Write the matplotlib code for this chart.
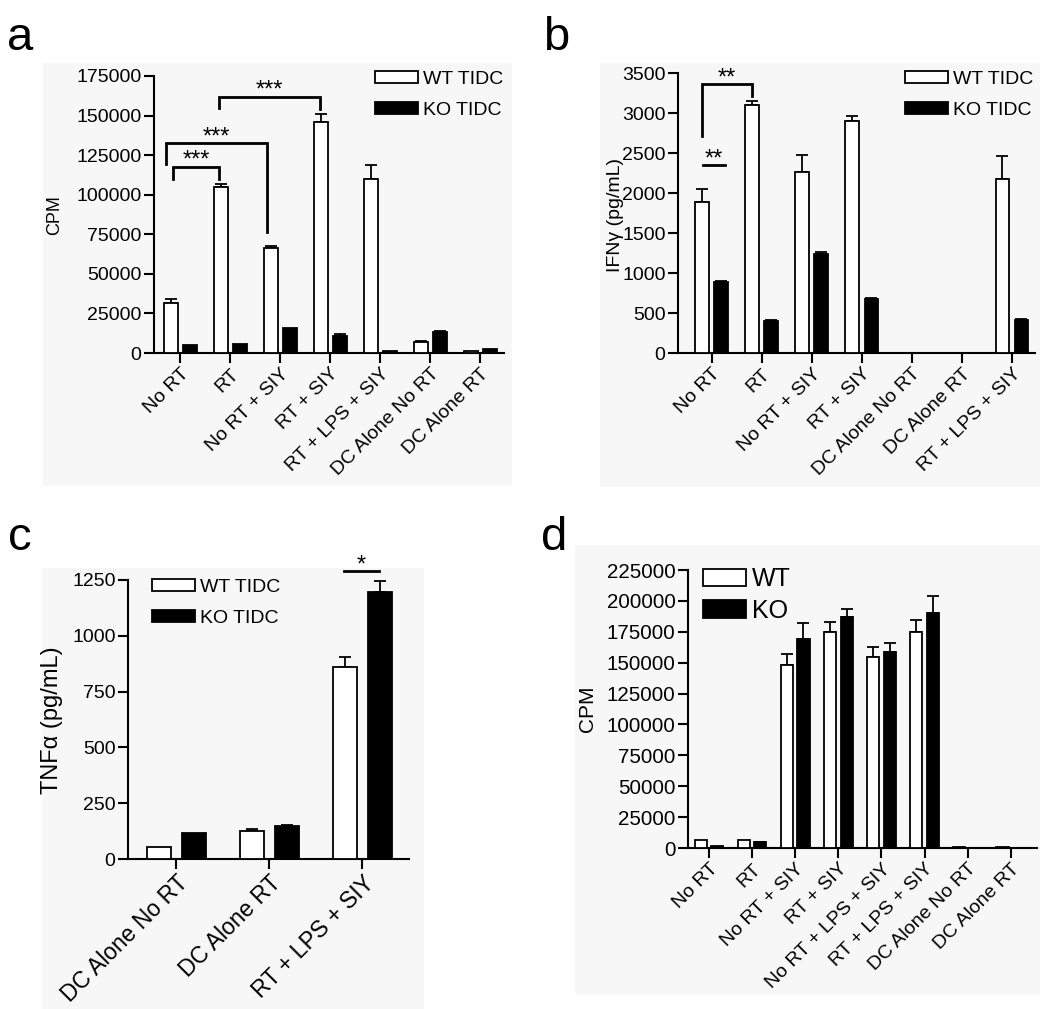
import numpy as np
import matplotlib
matplotlib.use('Agg')
import matplotlib.pyplot as plt
from matplotlib.patches import Rectangle

plt.rcParams['font.family'] = ['Liberation Sans', 'DejaVu Sans']

W, H = 1050, 1009

# ---- data ----
a_groups = ['No RT', 'RT', 'No RT + SIY', 'RT + SIY', 'RT + LPS + SIY',
            'DC Alone No RT', 'DC Alone RT']
a_wt = [31500, 104800, 66200, 146000, 109800, 6700, 1300]
a_wt_err = [2500, 2100, 1700, 5000, 8800, 600, 0]
a_ko = [4800, 5700, 15800, 10900, 1300, 13000, 2500]
a_ko_err = [0, 0, 0, 1100, 0, 700, 0]

b_groups = ['No RT', 'RT', 'No RT + SIY', 'RT + SIY', 'DC Alone No RT',
            'DC Alone RT', 'RT + LPS + SIY']
b_wt = [1890, 3100, 2260, 2900, 0, 3, 2175]
b_wt_err = [160, 55, 215, 58, 0, 0, 285]
b_ko = [883, 396, 1242, 675, 0, 0, 408]
b_ko_err = [20, 12, 20, 17, 0, 0, 13]

c_groups = ['DC Alone No RT', 'DC Alone RT', 'RT + LPS + SIY']
c_wt = [52, 125, 860]
c_wt_err = [0, 8, 47]
c_ko = [118, 146, 1198]
c_ko_err = [0, 5, 49]

d_groups = ['No RT', 'RT', 'No RT + SIY', 'RT + SIY', 'No RT + LPS + SIY',
            'RT + LPS + SIY', 'DC Alone No RT', 'DC Alone RT']
d_wt = [6700, 6200, 148500, 174600, 154400, 174600, 500, 600]
d_wt_err = [0, 0, 8600, 8400, 8100, 10000, 0, 0]
d_ko = [1300, 4600, 169200, 187300, 158400, 190500, 300, 300]
d_ko_err = [0, 500, 12700, 6400, 7800, 13800, 0, 0]

# brackets: (x1, x2, top, left_bottom, right_bottom, label)
a_sig = [(-0.14, 0.78, 117800, 110000, 110000, '***'),
         (-0.29, 1.73, 132500, 119300, 76400, '***'),
         (0.78, 2.80, 162000, 154600, 154200, '***')]
b_sig = [(-0.20, 0.80, 3362, 2708, 3208, '**'),
         (-0.18, 0.26, 2346, 2346, 2346, '**')]
c_sig = [(1.80, 2.18, 1289, 1289, 1289, '*')]

fig = plt.figure(figsize=(W / 100, H / 100), dpi=100)
fig.patch.set_facecolor('white')


def add_ax(l, t, r, b):
    ax = fig.add_axes([l / W, 1 - b / H, (r - l) / W, (b - t) / H])
    ax.set_facecolor('none')
    return ax


def backdrop(l, t, r, b):
    fig.add_artist(Rectangle((l / W, 1 - b / H), (r - l) / W, (b - t) / H,
                             transform=fig.transFigure, facecolor='#f7f7f7',
                             edgecolor='none', zorder=-5))


def draw_bars(ax, groups, wt, wt_err, ko, ko_err, width, off, labels, xfs=14):
    x = np.arange(len(groups))
    wt = np.array(wt, float)
    ko = np.array(ko, float)
    ax.bar(x - off, wt, width, facecolor='white', edgecolor='black',
           linewidth=1.3, zorder=3, label=labels[0])
    ax.bar(x + off, ko, width, facecolor='black', edgecolor='black',
           linewidth=1.3, zorder=3, label=labels[1])
    for xs, ys, es in [(x - off, wt, wt_err), (x + off, ko, ko_err)]:
        es = np.array(es, float)
        m = es > 0
        ax.errorbar(xs[m], ys[m], yerr=[np.zeros(m.sum()), es[m]], fmt='none',
                    ecolor='black', elinewidth=1.3, capsize=4.5, capthick=1.3,
                    zorder=2)
    ax.set_xticks(x)
    ax.set_xticklabels(groups, rotation=45, ha='right', va='top',
                       rotation_mode='anchor', fontsize=xfs)


def style(ax, ymax, ystep, xlim, yfs=14):
    ax.set_ylim(0, ymax)
    ax.set_yticks(np.arange(0, ymax + 1, ystep))
    ax.set_xlim(*xlim)
    for s in ['top', 'right']:
        ax.spines[s].set_visible(False)
    for s in ['left', 'bottom']:
        ax.spines[s].set_linewidth(1.5)
    ax.tick_params(length=7, width=1.5, pad=2)
    ax.tick_params(axis='y', labelsize=yfs)


def brackets(ax, sig, fs=17):
    for x1, x2, top, lb, rb, lab in sig:
        ax.plot([x1, x1, x2, x2], [lb, top, top, rb], color='black', lw=2,
                clip_on=False, solid_joinstyle='miter', zorder=4)
        ax.text((x1 + x2) / 2, top, lab, ha='center', va='baseline',
                fontsize=fs, clip_on=False)


def ylabel(ax, text, cx, cy, fs):
    ax.set_ylabel(text, fontsize=fs)
    ax.yaxis.set_label_coords(cx / W, 1 - cy / H, transform=fig.transFigure)
    ax.yaxis.label.set_va('center')


def legend(ax, l, t, fs, hl, hh, ls):
    ax.legend(loc='upper left', bbox_to_anchor=(l / W, 1 - t / H),
              bbox_transform=fig.transFigure, frameon=False, fontsize=fs,
              handlelength=hl, handleheight=hh, handletextpad=0.25,
              labelspacing=ls, borderpad=0, borderaxespad=0)


# backgrounds of the scanned panels
backdrop(43, 63, 512, 486)
backdrop(600, 63, 1040, 487)
backdrop(42, 568, 424, 1009)
backdrop(575, 545, 1040, 995)

# ---- panel a ----
ax_a = add_ax(154, 76, 504, 353)
draw_bars(ax_a, a_groups, a_wt, a_wt_err, a_ko, a_ko_err, 0.28, 0.19,
          ['WT TIDC', 'KO TIDC'])
style(ax_a, 175000, 25000, (-0.52, 6.48))
brackets(ax_a, a_sig)
ylabel(ax_a, 'CPM', 55, 215, 13)
legend(ax_a, 375, 71, 14, 2.2, 0.6, 0.72)

# ---- panel b ----
ax_b = add_ax(678, 73, 1035, 353)
draw_bars(ax_b, b_groups, b_wt, b_wt_err, b_ko, b_ko_err, 0.27, 0.19,
          ['WT TIDC', 'KO TIDC'])
style(ax_b, 3500, 500, (-0.67, 6.46))
brackets(ax_b, b_sig)
ylabel(ax_b, 'IFNγ (pg/mL)', 615, 215, 14)
legend(ax_b, 905, 71, 14, 2.2, 0.6, 0.72)

# ---- panel c ----
ax_c = add_ax(128, 580, 409, 859)
draw_bars(ax_c, c_groups, c_wt, c_wt_err, c_ko, c_ko_err, 0.26, 0.19,
          ['WT TIDC', 'KO TIDC'], xfs=16.5)
style(ax_c, 1250, 250, (-0.52, 2.5))
brackets(ax_c, c_sig)
ylabel(ax_c, 'TNFα (pg/mL)', 52, 720, 17)
legend(ax_c, 152, 579, 14, 2.2, 0.6, 0.72)

# ---- panel d ----
ax_d = add_ax(688, 570, 1037, 848)
draw_bars(ax_d, d_groups, d_wt, d_wt_err, d_ko, d_ko_err, 0.28, 0.19,
          ['WT', 'KO'])
style(ax_d, 225000, 25000, (-0.49, 7.61), yfs=14.8)
ylabel(ax_d, 'CPM', 587, 709, 15)
legend(ax_d, 703, 567, 18, 1.7, 0.7, 0.31)

# panel letters
for txt, x, y in [('a', 7, 50), ('b', 543, 50), ('c', 8, 550), ('d', 541, 550)]:
    fig.text(x / W, 1 - y / H, txt, fontsize=34, va='baseline', ha='left')

fig.savefig('out.png', dpi=100)
